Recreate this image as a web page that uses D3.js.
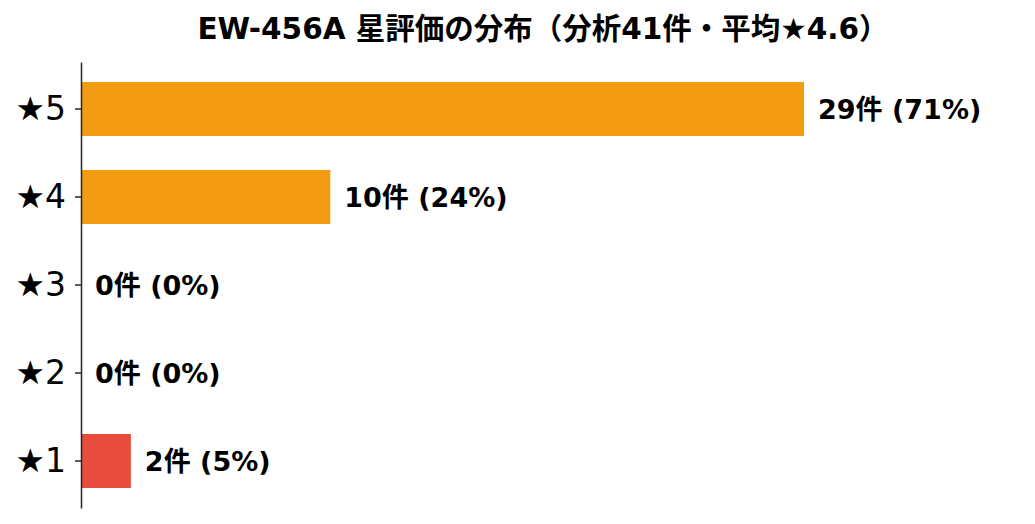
<!DOCTYPE html>
<html>
<head>
<meta charset="utf-8">
<script src="https://cdn.jsdelivr.net/npm/d3@7"></script>
<style>
  body { margin: 0; background: #fff; }
  text { font-family: "DejaVu Sans", "Noto Sans CJK JP", sans-serif; }
</style>
</head>
<body>
<div id="chart"></div>
<script>
// data
var categories = ["★5", "★4", "★3", "★2", "★1"];
var counts = [29, 10, 0, 0, 2];
var percents = [71, 24, 0, 0, 5];
var title = "EW-456A 星評価の分布（分析41件・平均★4.6）";

var width = 1035, height = 524;
var margin = {top: 62, left: 81, bottom: 16};

var svg = d3.select("#chart").append("svg")
    .attr("width", width)
    .attr("height", height);

var x = d3.scaleLinear()
    .domain([0, 29])
    .range([margin.left, 804]);

var y = d3.scaleBand()
    .domain(categories)
    .range([margin.top, height - margin.bottom])
    .paddingInner(0.386)
    .paddingOuter(0.227);

var color = function(c) { return c === "★1" ? "#E74C3C" : "#F39C12"; };

// bars
svg.append("g")
    .selectAll("rect")
    .data(categories)
    .join("rect")
    .attr("x", x(0))
    .attr("y", function(d) { return y(d); })
    .attr("width", function(d, i) { return x(counts[i]) - x(0); })
    .attr("height", y.bandwidth())
    .attr("fill", color);

// value labels
svg.append("g")
    .selectAll("text")
    .data(categories)
    .join("text")
    .attr("x", function(d, i) { return x(counts[i]) + 14; })
    .attr("y", function(d) { return y(d) + y.bandwidth() / 2; })
    .attr("dy", "0.36em")
    .style("font-size", "27px")
    .style("font-weight", "bold")
    .attr("fill", "#000")
    .text(function(d, i) { return counts[i] + "件 (" + percents[i] + "%)"; });

// y axis
var yAxis = svg.append("g")
    .attr("transform", "translate(" + margin.left + ",0)")
    .call(d3.axisLeft(y).tickSize(6).tickSizeOuter(0).tickPadding(9));

yAxis.select(".domain").attr("stroke", "#262626").attr("stroke-width", 1.5);
yAxis.selectAll(".tick line").attr("stroke", "#262626").attr("stroke-width", 1.5);
yAxis.selectAll(".tick text")
    .style("font-size", "33px")
    .style("font-family", "'DejaVu Sans', 'Noto Sans CJK JP', sans-serif")
    .attr("fill", "#000");

// title
svg.append("text")
    .attr("x", 543)
    .attr("y", 39)
    .attr("text-anchor", "middle")
    .style("font-size", "29.5px")
    .style("font-weight", "bold")
    .attr("fill", "#000")
    .text(title);
</script>
</body>
</html>
